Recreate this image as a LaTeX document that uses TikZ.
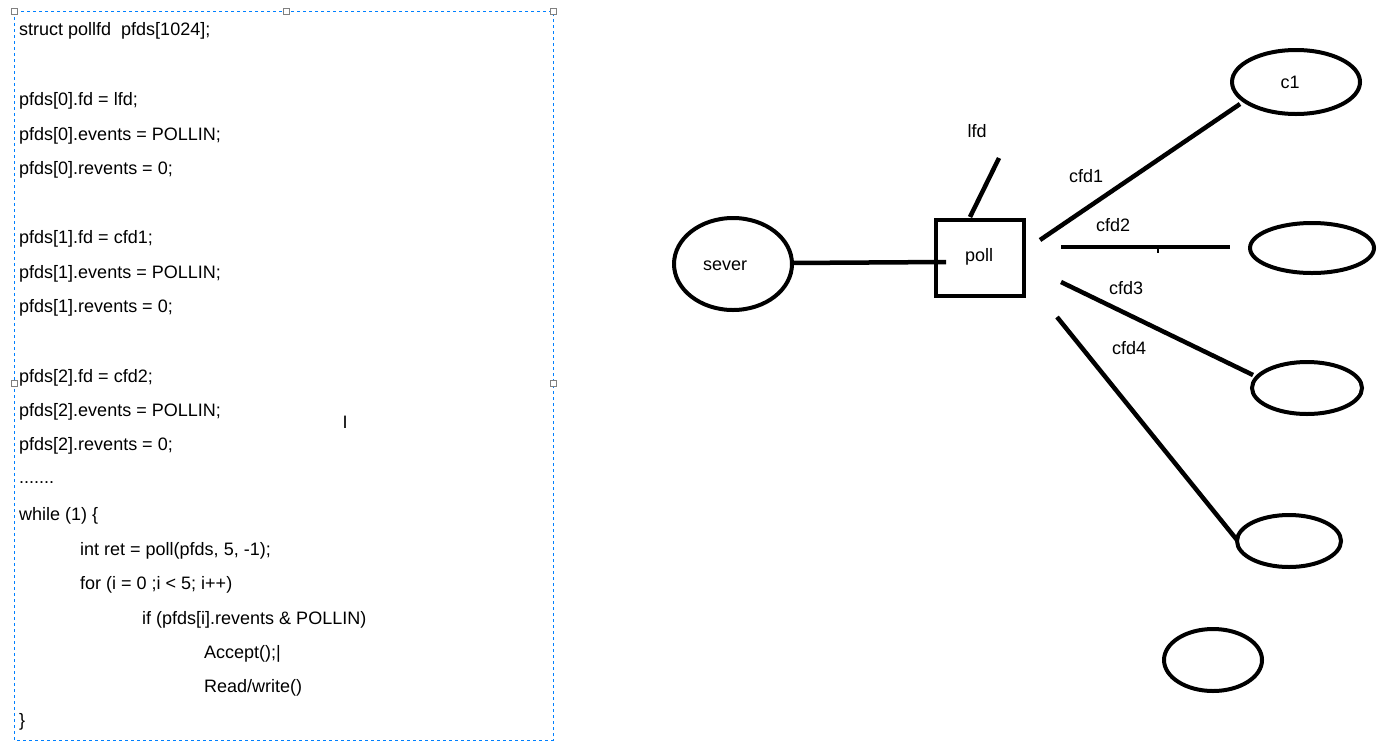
\documentclass[tikz,border=0pt]{standalone}
\usepackage{fontspec}
\setmainfont{Liberation Sans}
\usetikzlibrary{shapes.geometric}
\begin{document}
\begin{tikzpicture}[x=1pt,y=-1pt,
  code/.style={anchor=west,inner sep=0pt,font=\fontsize{18}{20}\selectfont},
  lbl/.style={inner sep=0pt,font=\fontsize{18}{20}\selectfont},
  thick5/.style={line width=4.5pt},
  ell/.style={ellipse,draw,line width=4pt}]
\useasboundingbox (0,0) rectangle (1396,742);
\fill[white] (0,0) rectangle (1396,742);
\draw[dashed,color=blue!50!cyan,line width=1pt] (14,11) rectangle (553,740);
\foreach \p in {(14,11),(286,11),(553,11),(14,383),(553,383)}
  \draw[gray,fill=white,line width=0.6pt] \p ++(-3,-3) rectangle ++(6,6);
\foreach \y/\x/\t in {31/19/{struct pollfd\ \ pfds[1024];},
  101/19/{pfds[0].fd = lfd;},136/19/{pfds[0].events = POLLIN;},170/19/{pfds[0].revents = 0;},
  239/19/{pfds[1].fd = cfd1;},274/19/{pfds[1].events = POLLIN;},308/19/{pfds[1].revents = 0;},
  378/19/{pfds[2].fd = cfd2;},412/19/{pfds[2].events = POLLIN;},446/19/{pfds[2].revents = 0;},
  483/19/{.......},516/19/{while (1) \{},551/80/{int ret = poll(pfds, 5, -1);},
  585/80/{for (i = 0 ;i < 5; i++)},620/142/{if (pfds[i].revents \& POLLIN)},
  654/204/{Accept();|},688/204/{Read/write()},722/19/{\}}}
  \node[code] at (\x,\y) {\t};
\node[lbl] at (345,422) {I};
% right diagram
\node[ell,minimum width=118pt,minimum height=92pt] (sever) at (733,264) {};
\node[lbl] at (725,266) {sever};
\node[draw,line width=4pt,minimum width=88pt,minimum height=76pt] (poll) at (980,258) {};
\node[lbl] at (979,257) {poll};
\node[lbl] (lfd) at (977,131) {lfd};
\node[ell,minimum width=128pt,minimum height=64pt] (c1) at (1296,82) {};
\node[lbl] at (1290,82) {c1};
\node[ell,minimum width=124pt,minimum height=50pt] (e2) at (1312,248) {};
\node[ell,minimum width=110pt,minimum height=52pt] (e3) at (1307,388) {};
\node[ell,minimum width=104pt,minimum height=52pt] (e4) at (1289,541) {};
\node[ell,minimum width=98pt,minimum height=62pt] (e5) at (1213,660) {};
\coordinate (l0) at (970,217); \coordinate (l1) at (999,158);
\draw[thick5] (l0) -- (l1);
\coordinate (s0) at (790,263); \coordinate (s1) at (946,262);
\draw[thick5] (s0) -- (s1);
\coordinate (a0) at (1040,240); \coordinate (a1) at (1240,104);
\draw[thick5] (a0) -- (a1);
\coordinate (b0) at (1061,247); \coordinate (b1) at (1230,247);
\draw[thick5] (b0) -- (b1);
\draw[line width=2.5pt] (1158,247) -- (1158,253);
\coordinate (c0) at (1061,282); \coordinate (c1e) at (1253,375);
\draw[thick5] (c0) -- (c1e);
\coordinate (d0) at (1057,317); \coordinate (d1) at (1237,540);
\draw[thick5] (d0) -- (d1);
\node[lbl] at (1086,176) {cfd1};
\node[lbl] at (1113,225) {cfd2};
\node[lbl] at (1126,288) {cfd3};
\node[lbl] at (1129,348) {cfd4};
\end{tikzpicture}
\end{document}
